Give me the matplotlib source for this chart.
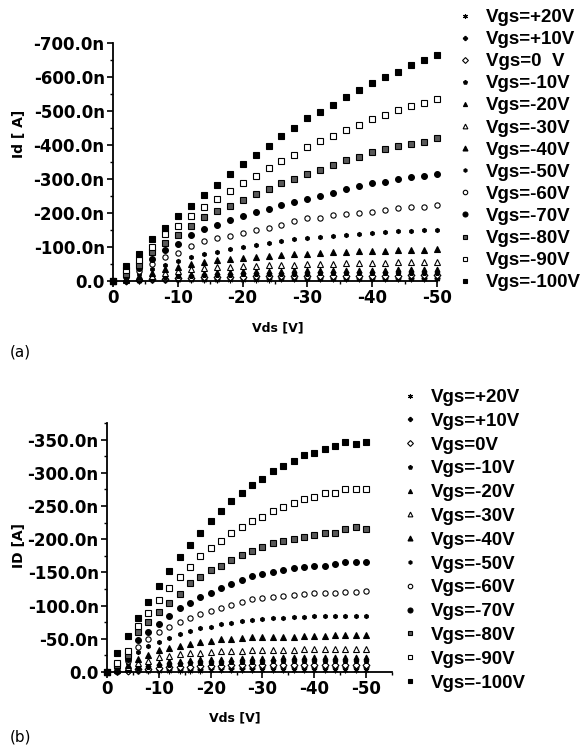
import matplotlib
matplotlib.use("Agg")
import matplotlib.pyplot as plt
from matplotlib.lines import Line2D
from matplotlib.ticker import FuncFormatter, MultipleLocator

plt.rcParams["font.family"] = ["DejaVu Sans"]

# drain voltage, V (same sweep for both panels)
VDS = [0, -2, -4, -6, -8, -10, -12, -14, -16, -18, -20, -22, -24,
       -26, -28, -30, -32, -34, -36, -38, -40, -42, -44, -46, -48, -50]

VGS_LABELS_A = ["Vgs=+20V", "Vgs=+10V", "Vgs=0  V", "Vgs=-10V", "Vgs=-20V",
                "Vgs=-30V", "Vgs=-40V", "Vgs=-50V", "Vgs=-60V", "Vgs=-70V",
                "Vgs=-80V", "Vgs=-90V", "Vgs=-100V"]
VGS_LABELS_B = ["Vgs=+20V", "Vgs=+10V", "Vgs=0V", "Vgs=-10V", "Vgs=-20V",
                "Vgs=-30V", "Vgs=-40V", "Vgs=-50V", "Vgs=-60V", "Vgs=-70V",
                "Vgs=-80V", "Vgs=-90V", "Vgs=-100V"]

# panel (a): drain current, nA
ID_A_P20 = [0, 0, -1, -2, -2, -3, -3, -3, -4, -4, -4, -4, -4, -5, -5, -5, -5, -5, -5, -5, -5, -5, -5, -5, -5, -5]
ID_A_P10 = [0, -1, -2, -3, -4, -5, -6, -7, -7, -8, -8, -8, -9, -9, -9, -9, -9, -10, -10, -10, -10, -10, -10, -10, -10, -10]
ID_A_0 = [0, -1, -3, -5, -7, -9, -10, -11, -12, -13, -13, -14, -14, -15, -15, -15, -15, -16, -16, -16, -16, -16, -16, -17, -17, -17]
ID_A_M10 = [0, -1, -4, -8, -11, -14, -16, -17, -18, -19, -20, -21, -21, -22, -22, -22, -23, -23, -23, -23, -24, -24, -24, -24, -24, -24]
ID_A_M20 = [0, -2, -6, -11, -15, -19, -22, -24, -26, -27, -28, -29, -30, -30, -31, -31, -32, -32, -32, -33, -33, -33, -34, -34, -34, -34]
ID_A_M30 = [0, -3, -9, -16, -23, -29, -34, -37, -40, -42, -44, -45, -46, -47, -48, -49, -50, -51, -52, -53, -53, -54, -55, -55, -56, -56]
ID_A_M40 = [0, -5, -14, -24, -34, -42, -50, -57, -62, -66, -69, -72, -74, -76, -78, -80, -82, -84, -86, -87, -88, -89, -90, -91, -92, -93]
ID_A_M50 = [0, -8, -20, -34, -47, -58, -70, -80, -86, -94, -100, -106, -112, -118, -123, -126, -130, -132, -135, -138, -142, -145, -147, -148, -150, -151]
ID_A_M60 = [0, -12, -28, -50, -72, -83, -104, -118, -126, -133, -142, -150, -157, -165, -177, -184, -186, -194, -197, -201, -204, -209, -214, -217, -219, -224]
ID_A_M70 = [0, -16, -38, -66, -91, -109, -135, -152, -165, -178, -190, -202, -212, -223, -233, -240, -251, -260, -271, -279, -287, -290, -299, -305, -310, -314]
ID_A_M80 = [0, -22, -48, -85, -112, -135, -162, -188, -205, -222, -237, -255, -271, -287, -299, -314, -326, -341, -356, -366, -378, -388, -398, -404, -410, -422]
ID_A_M90 = [0, -32, -62, -100, -137, -162, -191, -218, -241, -265, -289, -310, -332, -353, -372, -395, -412, -427, -445, -460, -476, -487, -502, -514, -524, -536]
ID_A_M100 = [0, -44, -79, -123, -155, -191, -221, -252, -283, -314, -344, -370, -398, -425, -450, -479, -497, -518, -541, -562, -582, -600, -615, -635, -650, -665]

# panel (b): drain current, nA
ID_B_P20 = [0, 0, -1, -1, -1, -2, -2, -2, -2, -2, -3, -3, -3, -3, -3, -3, -3, -3, -3, -3, -3, -3, -3, -3, -3, -3]
ID_B_P10 = [0, 0, -1, -2, -3, -4, -4, -5, -5, -5, -6, -6, -6, -6, -6, -7, -7, -7, -7, -7, -7, -7, -7, -7, -7, -7]
ID_B_0 = [0, -1, -2, -4, -5, -6, -7, -8, -8, -9, -9, -9, -10, -10, -10, -10, -10, -11, -11, -11, -11, -11, -11, -11, -11, -11]
ID_B_M10 = [0, -1, -3, -6, -8, -10, -11, -12, -13, -13, -14, -14, -15, -15, -15, -15, -16, -16, -16, -16, -16, -16, -16, -16, -16, -16]
ID_B_M20 = [0, -2, -5, -9, -12, -14, -16, -17, -18, -19, -19, -20, -20, -21, -21, -21, -21, -22, -22, -22, -22, -22, -22, -22, -22, -22]
ID_B_M30 = [0, -3, -7, -13, -17, -22, -24, -27, -28, -29, -30, -31, -32, -32, -33, -33, -33, -33, -33, -34, -34, -34, -34, -34, -34, -34]
ID_B_M40 = [0, -4, -10, -20, -26, -33, -36, -39, -42, -45, -46, -49, -50, -51, -52, -52, -53, -53, -53, -54, -54, -54, -55, -55, -55, -55]
ID_B_M50 = [0, -5, -13, -30, -39, -45, -51, -57, -62, -66, -68, -72, -74, -77, -78, -80, -81, -82, -83, -83, -84, -84, -84, -85, -85, -85]
ID_B_M60 = [0, -6, -16, -38, -49, -60, -68, -75, -81, -87, -92, -96, -101, -105, -110, -111, -113, -114, -116, -117, -119, -119, -119, -120, -120, -122]
ID_B_M70 = [0, -8, -20, -48, -60, -73, -85, -96, -104, -113, -119, -126, -133, -138, -144, -148, -151, -153, -156, -158, -159, -160, -163, -165, -165, -165]
ID_B_M80 = [0, -10, -26, -60, -75, -90, -104, -117, -134, -143, -153, -159, -168, -176, -182, -188, -194, -198, -201, -204, -206, -209, -210, -215, -218, -216]
ID_B_M90 = [0, -14, -32, -70, -89, -108, -126, -143, -158, -174, -186, -198, -209, -218, -228, -234, -243, -249, -255, -260, -264, -269, -270, -275, -275, -275]
ID_B_M100 = [0, -28, -54, -82, -105, -129, -152, -173, -192, -210, -227, -243, -257, -269, -281, -291, -302, -310, -318, -327, -330, -336, -341, -347, -344, -347]

SERIES_A = [ID_A_P20, ID_A_P10, ID_A_0, ID_A_M10, ID_A_M20, ID_A_M30, ID_A_M40,
            ID_A_M50, ID_A_M60, ID_A_M70, ID_A_M80, ID_A_M90, ID_A_M100]
SERIES_B = [ID_B_P20, ID_B_P10, ID_B_0, ID_B_M10, ID_B_M20, ID_B_M30, ID_B_M40,
            ID_B_M50, ID_B_M60, ID_B_M70, ID_B_M80, ID_B_M90, ID_B_M100]

# marker, face colour, size
STYLES = [
    ((6, 2, 0), "black", 4),
    ("P", "black", 3.5),
    ("D", "white", 3.5),
    ("p", "black", 3.5),
    ("^", "black", 3.5),
    ("^", "white", 4),
    ("^", "black", 4.2),
    ("h", "black", 3),
    ("o", "white", 3.8),
    ("o", "black", 4.2),
    ("s", "0.35", 3.8),
    ("s", "white", 3.8),
    ("s", "black", 3.8),
]

W, H = 586, 746
LEGEND_FONT = dict(family="Liberation Sans", size=13.5, weight="bold")


def nano_fmt(v, _pos):
    if abs(v) < 1e-9:
        return "0.0"
    return f"{v:.1f}n"


def draw_panel(rect, series, labels, ymax, ymajor, xmax, ylabel, label_xy, ylabel_xy, legend_xy, legend_sp):
    ax = fig.add_axes(rect)
    for ys, (m, fc, ms) in zip(series, STYLES):
        ax.plot(VDS, ys, linestyle="none", marker=m, markersize=ms,
                markerfacecolor=fc, markeredgecolor="black", markeredgewidth=0.8,
                color="black", clip_on=False)

    ax.set_xlim(0, xmax)
    ax.set_ylim(0, ymax)
    ax.xaxis.set_major_locator(MultipleLocator(10))
    ax.xaxis.set_minor_locator(MultipleLocator(5))
    ax.yaxis.set_major_locator(MultipleLocator(ymajor))
    ax.yaxis.set_minor_locator(MultipleLocator(ymajor / 2))
    ax.yaxis.set_major_formatter(FuncFormatter(nano_fmt))
    ax.xaxis.set_major_formatter(FuncFormatter(lambda v, p: f"{v:.0f}"))

    for side in ("top", "right"):
        ax.spines[side].set_visible(False)
    for side in ("left", "bottom"):
        ax.spines[side].set_linewidth(1.3)
    ax.tick_params(which="major", direction="out", length=4, width=1.2, pad=2,
                   labelsize=12)
    ax.tick_params(which="minor", direction="out", length=2.5, width=1.0)
    for t in ax.get_xticklabels() + ax.get_yticklabels():
        t.set_fontweight("bold")

    ax.set_xlabel("Vds [V]", fontsize=9, fontweight="bold")
    ax.xaxis.set_label_coords(label_xy[0], label_xy[1])
    ax.set_ylabel(ylabel, fontsize=10, fontweight="bold")
    ax.yaxis.set_label_coords(ylabel_xy[0], ylabel_xy[1])

    handles = [Line2D([], [], linestyle="none", marker=m, markersize=ms * 0.85,
                      markerfacecolor=fc, markeredgecolor="black", markeredgewidth=0.8)
               for (m, fc, ms) in STYLES]
    fig.legend(handles, labels, loc="upper left", bbox_to_anchor=legend_xy,
               bbox_transform=fig.transFigure, frameon=False, borderpad=0,
               borderaxespad=0, handlelength=1.0, handletextpad=0.6,
               labelspacing=legend_sp, prop=LEGEND_FONT)
    return ax


fig = plt.figure(figsize=(W / 100, H / 100), dpi=100)

# y limits given in nA; multiples of 100 / 50 for ticks
draw_panel([113 / W, 1 - 281 / H, 324 / W, 238 / H], SERIES_A, VGS_LABELS_A,
           ymax=-700, ymajor=100, xmax=-50, ylabel="Id [ A]",
           label_xy=(0.51, -0.168), ylabel_xy=(-0.268, 0.62),
           legend_xy=(456 / W, 1 - 9 / H), legend_sp=0.265)

draw_panel([107 / W, 1 - 672 / H, 285 / W, 249 / H], SERIES_B, VGS_LABELS_B,
           ymax=-375, ymajor=50, xmax=-55, ylabel="ID [A]",
           label_xy=(0.45, -0.16), ylabel_xy=(-0.284, 0.51),
           legend_xy=(401 / W, 1 - 389 / H), legend_sp=0.355)

fig.text(10 / W, 1 - 352 / H, "(a)", fontsize=11, family="DejaVu Sans", va="center")
fig.text(10 / W, 1 - 737 / H, "(b)", fontsize=11, family="DejaVu Sans", va="center")

fig.savefig("out.png", dpi=100)
